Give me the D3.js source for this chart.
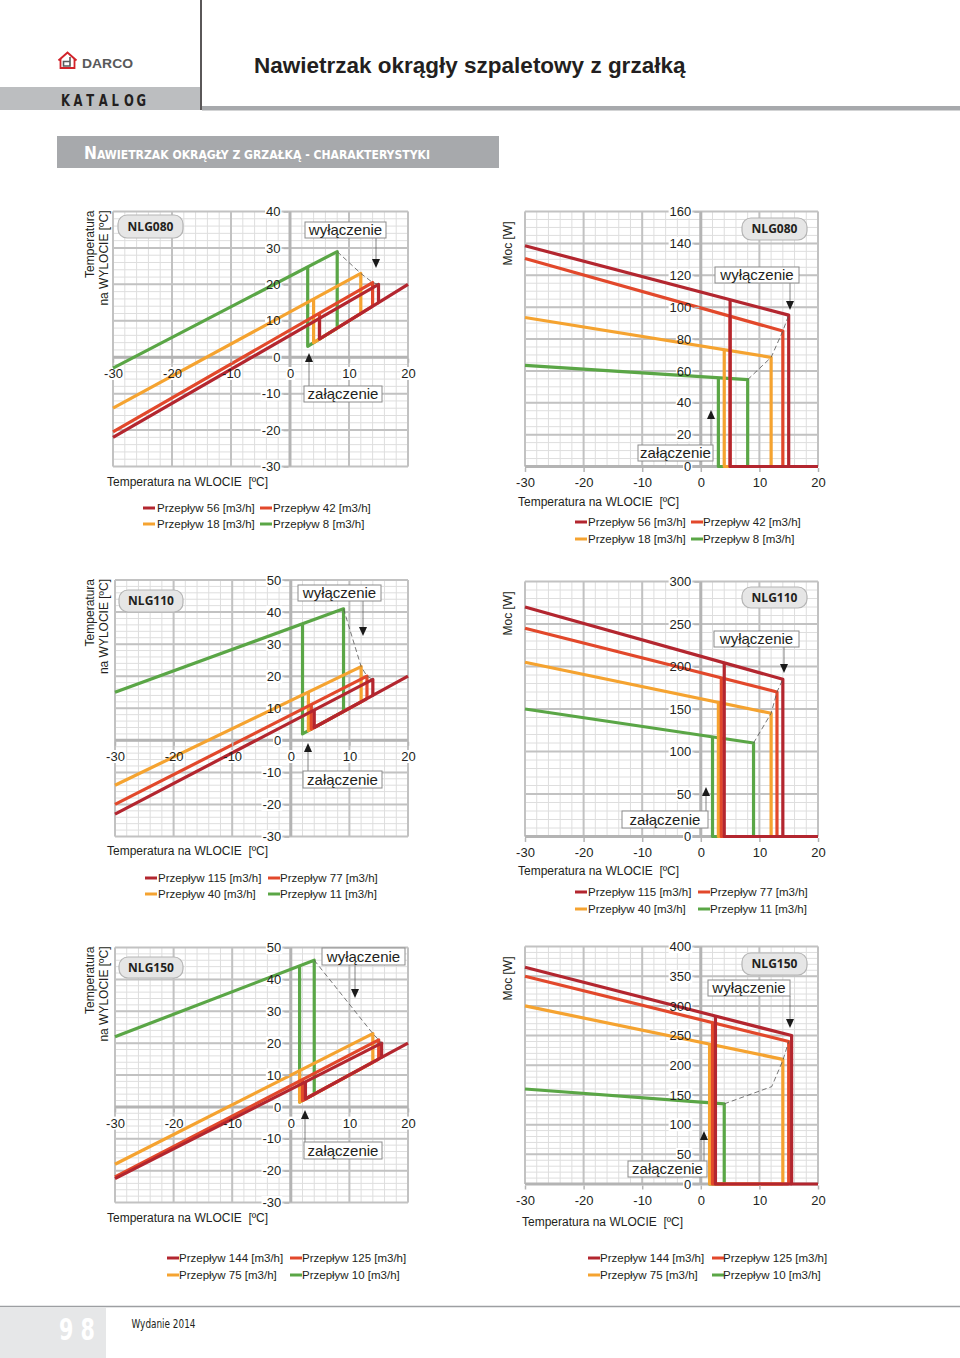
<!DOCTYPE html>
<html><head><meta charset="utf-8">
<script src="https://cdn.jsdelivr.net/npm/d3@7"></script>
<style>
body{margin:0;background:#fff;}
svg{display:block;font-family:"Liberation Sans",Arial,sans-serif;}
</style></head><body>
<svg id="page" width="960" height="1358"></svg>
<script>
// ---------------- DATA ----------------
const xTicks = [-30, -20, -10, 0, 10, 20];
const tempTicks080 = [-30, -20, -10, 0, 10, 20, 30, 40];
const tempTicks110 = [-30, -20, -10, 0, 10, 20, 30, 40, 50];
const tempTicks150 = [-30, -20, -10, 0, 10, 20, 30, 40, 50];
const powerTicks080 = [0, 20, 40, 60, 80, 100, 120, 140, 160];
const powerTicks110 = [0, 50, 100, 150, 200, 250, 300];
const powerTicks150 = [0, 50, 100, 150, 200, 250, 300, 350, 400];

const models = ["NLG080", "NLG110", "NLG150"];
const flows080 = ["Przepływ 56 [m3/h]", "Przepływ 42 [m3/h]", "Przepływ 18 [m3/h]", "Przepływ 8 [m3/h]"];
const flows110 = ["Przepływ 115 [m3/h]", "Przepływ 77 [m3/h]", "Przepływ 40 [m3/h]", "Przepływ 11 [m3/h]"];
const flows150 = ["Przepływ 144 [m3/h]", "Przepływ 125 [m3/h]", "Przepływ 75 [m3/h]", "Przepływ 10 [m3/h]"];
const seriesColors = ["#b3262f", "#e2482b", "#f5a330", "#5aa646"];

// each series: list of polylines [x (inlet °C), y]
const temp080 = [
  [[[-30, -22], [15, 20], [15, 15], [20, 20]], [[5, 10.7], [5, 5], [15, 15]]],
  [[[-30, -20.5], [14, 20.5], [14, 14]], [[5, 12.1], [5, 5], [14, 14]]],
  [[[-30, -14], [12, 23], [12, 12]], [[4, 15.8], [4, 4], [12, 12]]],
  [[[-30, -3], [8, 29], [8, 8]], [[3, 24.8], [3, 3], [8, 8]]]
];
const tempGuide080 = [[8, 29], [12, 23], [14, 20.5], [15, 20]];
const power080 = [
  [[[-30, 138.5], [15, 95], [15, 0], [20, 0]], [[5, 104.5], [5, 0], [15, 0]]],
  [[[-30, 130.5], [14, 85], [14, 0]], [[5, 94.3], [5, 0], [14, 0]]],
  [[[-30, 93.5], [12, 68.5], [12, 0]], [[4, 73.3], [4, 0], [12, 0]]],
  [[[-30, 63.5], [8, 54.5], [8, 0]], [[3, 55.7], [3, 0], [8, 0]]]
];
const powerGuide080 = [[8, 54.5], [12, 68.5], [14, 85], [15, 95]];

const temp110 = [
  [[[-30, -23], [14, 19], [14, 14], [20, 20]], [[4, 9.5], [4, 4], [14, 14]]],
  [[[-30, -20], [13, 20], [13, 13]], [[3.5, 11.2], [3.5, 3.5], [13, 13]]],
  [[[-30, -14], [12, 23], [12, 12]], [[3, 15], [3, 3], [12, 12]]],
  [[[-30, 15], [9, 41], [9, 9]], [[2, 36.3], [2, 2], [9, 9]]]
];
const tempGuide110 = [[9, 41], [12, 23], [13, 20], [14, 19]];
const power110 = [
  [[[-30, 270], [14, 185], [14, 0], [20, 0]], [[4, 204], [4, 0], [14, 0]]],
  [[[-30, 245], [13, 170], [13, 0]], [[3.5, 187], [3.5, 0], [13, 0]]],
  [[[-30, 205], [12, 145], [12, 0]], [[3, 158], [3, 0], [12, 0]]],
  [[[-30, 150], [9, 110], [9, 0]], [[2, 117], [2, 0], [9, 0]]]
];
const powerGuide110 = [[9, 110], [12, 145], [13, 170], [14, 185]];

const temp150 = [
  [[[-30, -22.5], [15.5, 20], [15.5, 15.5], [20, 20]], [[2.5, 7.9], [2.5, 2.5], [15.5, 15.5]]],
  [[[-30, -22], [15, 21], [15, 15]], [[2, 8.6], [2, 2], [15, 15]]],
  [[[-30, -18], [14, 23], [14, 14]], [[1.5, 11.4], [1.5, 1.5], [14, 14]]],
  [[[-30, 22], [4, 46], [4, 4]], [[1.5, 44.2], [1.5, 1.5], [4, 4]]]
];
const tempGuide150 = [[4, 46], [14, 23], [15, 21], [15.5, 20]];
const power150 = [
  [[[-30, 365], [15.5, 250], [15.5, 0], [20, 0]], [[2.5, 283], [2.5, 0], [15.5, 0]]],
  [[[-30, 350], [15, 240], [15, 0]], [[2, 272], [2, 0], [15, 0]]],
  [[[-30, 300], [14, 210], [14, 0]], [[1.5, 236], [1.5, 0], [14, 0]]],
  [[[-30, 160], [4, 135], [4, 0]], [[1.5, 137], [1.5, 0], [4, 0]]]
];
const powerGuide150 = [[4, 135], [12.1, 164], [14, 208], [15, 240]];

// ---------------- LAYOUT ----------------
const charts = [
  {type: "temp", model: models[0], series: temp080, guide: tempGuide080, yTicks: tempTicks080, flows: flows080,
   x0: 113, x1: 408, y0: 211.5, y1: 466.5, yDomain: [-30, 40], yMinor: 2,
   badge: [118, 215, 65, 23], xTitle: [107, 486], leg: {y: [512, 528], dx: [143, 260], tx: [157, 273]},
   wyl: {box: [305, 222, 81, 16], ax: 376, tip: 268}, zal: {box: [304, 386, 78, 16], ax: 309, tip: 353}},
  {type: "power", model: models[0], series: power080, guide: powerGuide080, yTicks: powerTicks080, flows: flows080,
   x0: 525, x1: 818, y0: 211.5, y1: 466.5, yDomain: [0, 160], yMinor: 5,
   badge: [742, 218, 65, 22], xTitle: [518, 506], leg: {y: [526, 543], dx: [575, 691], tx: [588, 703]},
   wyl: {box: [715, 267, 84, 16], ax: 790, tip: 310}, zal: {box: [638, 445, 75, 16], ax: 711, tip: 410}},
  {type: "temp", model: models[1], series: temp110, guide: tempGuide110, yTicks: tempTicks110, flows: flows110,
   x0: 115, x1: 408, y0: 580, y1: 836.5, yDomain: [-30, 50], yMinor: 2,
   badge: [119, 590, 64, 22], xTitle: [107, 855], leg: {y: [882, 898], dx: [145, 268], tx: [158, 280]},
   wyl: {box: [298, 585, 83, 16], ax: 363, tip: 636}, zal: {box: [303, 771, 79, 17], ax: 308, tip: 743}},
  {type: "power", model: models[1], series: power110, guide: powerGuide110, yTicks: powerTicks110, flows: flows110,
   x0: 525, x1: 818, y0: 581.5, y1: 836.5, yDomain: [0, 300], yMinor: 10,
   badge: [742, 587, 65, 21], xTitle: [518, 875], leg: {y: [896, 913], dx: [575, 698], tx: [588, 710]},
   wyl: {box: [714, 631, 85, 16], ax: 784, tip: 673}, zal: {box: [622, 811, 86, 17], ax: 706, tip: 787}},
  {type: "temp", model: models[2], series: temp150, guide: tempGuide150, yTicks: tempTicks150, flows: flows150,
   x0: 115, x1: 408, y0: 947.5, y1: 1202.5, yDomain: [-30, 50], yMinor: 2,
   badge: [119, 957, 64, 21], xTitle: [107, 1222], leg: {y: [1262, 1279], dx: [167, 290], tx: [179, 302]},
   wyl: {box: [322, 948, 83, 17], ax: 355, tip: 998}, zal: {box: [304, 1142, 78, 17], ax: 305, tip: 1110}},
  {type: "power", model: models[2], series: power150, guide: powerGuide150, yTicks: powerTicks150, flows: flows150,
   x0: 525, x1: 818, y0: 946.5, y1: 1184, yDomain: [0, 400], yMinor: 10,
   badge: [742, 953, 65, 22], xTitle: [522, 1226], leg: {y: [1262, 1279], dx: [588, 712], tx: [600, 723]},
   wyl: {box: [708, 980, 82, 16], ax: 790, tip: 1028}, zal: {box: [628, 1161, 79, 16], ax: 704, tip: 1131}}
];

const svg = d3.select("#page");
const narrow = '"Liberation Sans Narrow","DejaVu Sans Condensed","Liberation Sans",sans-serif';

// ---------------- HEADER ----------------
svg.append("rect").attr("x", 0).attr("y", 87).attr("width", 200).attr("height", 23).attr("fill", "#bcbec0");
svg.append("rect").attr("x", 202).attr("y", 106).attr("width", 758).attr("height", 4.5).attr("fill", "#a7a9ac");
svg.append("line").attr("x1", 201).attr("x2", 201).attr("y1", 0).attr("y2", 110)
  .attr("stroke", "#231f20").attr("stroke-width", 1.5);
// KATALOG: condensed, widely spaced letters
svg.append("g").selectAll("text").data("KATALOG".split("")).join("text")
  .attr("transform", (d, i) => `translate(${61 + i * 12.6},105.5) scale(0.78,1)`)
  .attr("font-family", narrow).attr("font-weight", "bold").attr("font-size", 16.5)
  .attr("fill", "#231f20").text(d => d);
// logo
const logo = svg.append("g");
logo.append("path").attr("d", "M58.5,60.5 L67.5,52.5 L76.5,60.5").attr("fill", "none")
  .attr("stroke", "#d2232a").attr("stroke-width", 2);
logo.append("path").attr("d", "M60.5,59 V68 H74.5 V59").attr("fill", "none")
  .attr("stroke", "#d2232a").attr("stroke-width", 1.8);
logo.append("path").attr("d", "M63.5,61.5 H70 V66 H63.5 Z M70,57 V66").attr("fill", "none")
  .attr("stroke", "#58595b").attr("stroke-width", 1.6);
svg.append("text").attr("x", 82).attr("y", 67.5).text("DARCO")
  .attr("font-weight", "bold").attr("font-size", 13.5).attr("fill", "#58595b")
  .attr("textLength", 51).attr("lengthAdjust", "spacingAndGlyphs");
svg.append("text").attr("x", 254).attr("y", 73).text("Nawietrzak okrągły szpaletowy z grzałką")
  .attr("font-weight", "bold").attr("font-size", 22.5).attr("fill", "#231f20");

// section header
svg.append("rect").attr("x", 57).attr("y", 136).attr("width", 442).attr("height", 32).attr("fill", "#a7a9ac");
const sec = svg.append("text").attr("x", 84).attr("y", 158.5).attr("fill", "#fff")
  .attr("font-family", narrow).attr("font-weight", "bold")
  .attr("textLength", 346).attr("lengthAdjust", "spacingAndGlyphs");
sec.append("tspan").attr("font-size", 18.5).text("N");
sec.append("tspan").attr("font-size", 13).text("AWIETRZAK OKRĄGŁY Z GRZAŁKĄ - CHARAKTERYSTYKI");

// ---------------- FOOTER ----------------
svg.append("line").attr("x1", 0).attr("x2", 960).attr("y1", 1306.5).attr("y2", 1306.5)
  .attr("stroke", "#9d9fa2").attr("stroke-width", 1.5);
svg.append("rect").attr("x", 0).attr("y", 1307.3).attr("width", 106).attr("height", 51).attr("fill", "#e6e7e8");
svg.append("text").attr("x", 59).attr("y", 1340).text("9 8").attr("fill", "#fff")
  .attr("font-family", narrow).attr("font-weight", "bold").attr("font-size", 30)
  .attr("textLength", 36).attr("lengthAdjust", "spacingAndGlyphs");
svg.append("text").attr("x", 131.5).attr("y", 1328).text("Wydanie 2014").attr("fill", "#231f20")
  .attr("font-family", narrow).attr("font-size", 13)
  .attr("textLength", 64).attr("lengthAdjust", "spacingAndGlyphs");

// ---------------- CHARTS ----------------
const fmt = d => String(d);
function drawChart(c) {
  const x = d3.scaleLinear().domain([-30, 20]).range([c.x0, c.x1]);
  const y = d3.scaleLinear().domain(c.yDomain).range([c.y1, c.y0]);
  const root = svg.append("g");
  const gridG = root.append("g");
  const bgG = root.append("g");
  const lineG = root.append("g");
  const axisG = root.append("g");
  const annG = root.append("g");

  // minor grid
  const xMinor = d3.range(-30, 20.001, 2);
  const yMinor = d3.range(c.yDomain[0], c.yDomain[1] + 0.001, c.yMinor);
  gridG.selectAll(".vm").data(xMinor).join("line")
    .attr("x1", d => x(d)).attr("x2", d => x(d)).attr("y1", c.y0).attr("y2", c.y1)
    .attr("stroke", "#dedede").attr("stroke-width", 1);
  gridG.selectAll(".hm").data(yMinor).join("line")
    .attr("x1", c.x0).attr("x2", c.x1).attr("y1", d => y(d)).attr("y2", d => y(d))
    .attr("stroke", "#dedede").attr("stroke-width", 1);
  // major grid
  gridG.selectAll(".vM").data(xTicks).join("line")
    .attr("x1", d => x(d)).attr("x2", d => x(d)).attr("y1", c.y0).attr("y2", c.y1)
    .attr("stroke", "#c2c2c2").attr("stroke-width", 2);
  gridG.selectAll(".hM").data(c.yTicks).join("line")
    .attr("x1", c.x0).attr("x2", c.x1).attr("y1", d => y(d)).attr("y2", d => y(d))
    .attr("stroke", "#c2c2c2").attr("stroke-width", 2);
  // main axis lines
  gridG.append("line").attr("x1", x(0)).attr("x2", x(0)).attr("y1", c.y0).attr("y2", c.y1)
    .attr("stroke", "#b4b4b4").attr("stroke-width", 3);
  gridG.append("line").attr("x1", c.x0).attr("x2", c.x1).attr("y1", y(0)).attr("y2", y(0))
    .attr("stroke", "#b4b4b4").attr("stroke-width", 3);

  // axes
  const yAx = axisG.append("g").attr("transform", `translate(${x(0) - 1.5},0)`)
    .call(d3.axisLeft(y).tickValues(c.yTicks).tickSize(5).tickPadding(3).tickFormat(fmt));
  const xAxY = c.type === "temp" ? y(0) + 1.5 : c.y1 + 1.5;
  const xAx = axisG.append("g").attr("transform", `translate(0,${xAxY})`)
    .call(d3.axisBottom(x).tickValues(xTicks).tickSize(4).tickPadding(6).tickFormat(fmt));
  [yAx, xAx].forEach(a => {
    a.select(".domain").remove();
    a.selectAll(".tick line").attr("stroke", "#b4b4b4").attr("stroke-width", 1.5);
    a.selectAll(".tick text").attr("font-size", 13).attr("fill", "#231f20")
      .attr("font-family", '"Liberation Sans",Arial,sans-serif');
  });
  // white backgrounds behind tick labels (cover grid only)
  axisG.selectAll(".tick text").each(function () {
    const b = this.getBoundingClientRect();
    bgG.append("rect").attr("x", b.x - 1).attr("y", b.y + 1).attr("width", b.width + 2).attr("height", b.height - 2)
      .attr("fill", "#fff");
  });

  // series (drawn from last to first so darkest is on top)
  const line = d3.line().x(d => x(d[0])).y(d => y(d[1]));
  const order = [3, 2, 1, 0];
  order.forEach(i => {
    lineG.selectAll(null).data(c.series[i]).join("path")
      .attr("d", line).attr("fill", "none").attr("stroke", seriesColors[i])
      .attr("stroke-width", 3.2).attr("stroke-linejoin", "round").attr("stroke-linecap", "butt");
  });
  // guide dashed
  lineG.append("path").attr("d", line(c.guide)).attr("fill", "none")
    .attr("stroke", "#555").attr("stroke-width", 0.8).attr("stroke-dasharray", "5,3");

  // badge
  const bd = c.badge;
  annG.append("rect").attr("x", bd[0]).attr("y", bd[1]).attr("width", bd[2]).attr("height", bd[3])
    .attr("rx", 9).attr("fill", "#e6e6e6").attr("stroke", "#b5b5b5").attr("stroke-width", 1.2);
  annG.append("text").attr("x", bd[0] + bd[2] / 2).attr("y", bd[1] + bd[3] / 2 + 4.3)
    .attr("text-anchor", "middle").attr("font-family", '"Open Sans","Liberation Sans",sans-serif')
    .attr("font-weight", "bold").attr("font-size", 12).attr("fill", "#231f20").text(c.model);

  // annotations
  function note(n, label, dir) {
    const b = n.box;
    let y1, base;
    if (dir === "down") { y1 = b[1] + b[3]; base = n.tip - 9; }
    else { y1 = b[1]; base = n.tip + 9; }
    annG.append("line").attr("x1", n.ax).attr("x2", n.ax).attr("y1", y1).attr("y2", base)
      .attr("stroke", "#666").attr("stroke-width", 0.8);
    annG.append("path").attr("d", `M${n.ax - 4},${base} L${n.ax + 4},${base} L${n.ax},${n.tip} Z`)
      .attr("fill", "#1a1a1a");
    annG.append("rect").attr("x", b[0]).attr("y", b[1]).attr("width", b[2]).attr("height", b[3])
      .attr("fill", "#fff").attr("stroke", "#8c8c8c").attr("stroke-width", 1);
    annG.append("text").attr("x", b[0] + b[2] / 2).attr("y", b[1] + b[3] - 3.5)
      .attr("text-anchor", "middle").attr("font-size", 15).attr("fill", "#231f20").text(label);
  }
  note(c.wyl, "wyłączenie", "down");
  note(c.zal, "załączenie", "up");

  // axis titles
  if (c.type === "temp") {
    [["Temperatura", 90], ["na WYLOCIE [ºC]", 104]].forEach(([t, cx]) => {
      annG.append("text").attr("transform", `translate(${cx},${c.y0 - 1}) rotate(-90)`)
        .attr("text-anchor", "end").attr("dy", "0.35em").attr("font-size", 12).attr("fill", "#231f20").text(t);
    });
  } else {
    annG.append("text").attr("transform", `translate(508,${c.y0 + 10}) rotate(-90)`)
      .attr("text-anchor", "end").attr("dy", "0.35em").attr("font-size", 12).attr("fill", "#231f20").text("Moc [W]");
  }
  annG.append("text").attr("x", c.xTitle[0]).attr("y", c.xTitle[1]).attr("font-size", 12)
    .attr("fill", "#231f20").text("Temperatura na WLOCIE \u00a0[ºC]");

  // legend
  c.flows.forEach((f, i) => {
    const row = Math.floor(i / 2), col = i % 2;
    const ly = c.leg.y[row];
    annG.append("line").attr("x1", c.leg.dx[col]).attr("x2", c.leg.dx[col] + 12)
      .attr("y1", ly - 4).attr("y2", ly - 4).attr("stroke", seriesColors[i]).attr("stroke-width", 3);
    annG.append("text").attr("x", c.leg.tx[col]).attr("y", ly).attr("font-size", 11.5)
      .attr("fill", "#231f20").text(f);
  });
}
charts.forEach(drawChart);
</script>
</body></html>
